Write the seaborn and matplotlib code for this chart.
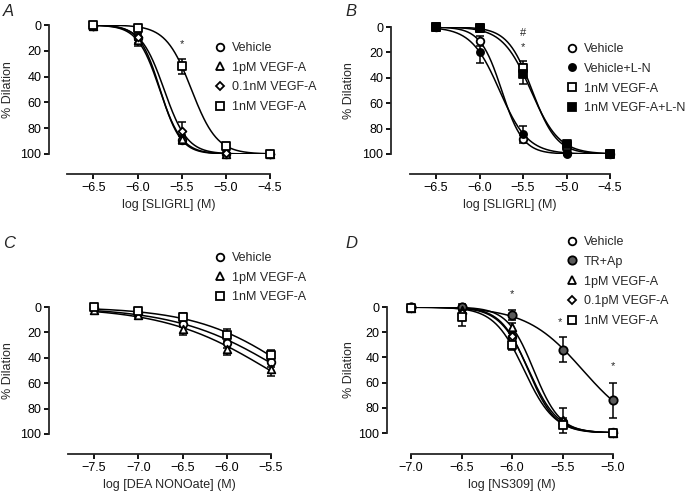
import numpy as np
import matplotlib
matplotlib.use("Agg")
import matplotlib.pyplot as plt
import seaborn as sns
from matplotlib.lines import Line2D

sns.set_style("ticks")
plt.rcParams["font.family"] = ["Liberation Sans", "DejaVu Sans"]
plt.rcParams["axes.linewidth"] = 1.3
plt.rcParams["xtick.major.width"] = 1.3
plt.rcParams["ytick.major.width"] = 1.3
plt.rcParams["xtick.major.size"] = 3.5
plt.rcParams["ytick.major.size"] = 3.5
plt.rcParams["xtick.color"] = "black"
plt.rcParams["ytick.color"] = "black"

# ---------------- data (log concentration vs % dilation, mean and SEM) ----------------
# panel A: SLIGRL
a_x = [-6.5, -6.0, -5.5, -5.0, -4.5]
a_labels = ["Vehicle", "1pM VEGF-A", "0.1nM VEGF-A", "1nM VEGF-A"]
a_vehicle = [1, 10, 89, 100, 100]
a_1pm = [1, 12, 88, 100, 100]
a_01nm = [1, 9, 82, 99, 100]
a_1nm = [0, 2, 32, 94, 100]
a_vehicle_err = [1, 4, 3, 1, 1]
a_1pm_err = [1, 4, 3, 1, 1]
a_01nm_err = [1, 3, 7, 1, 1]
a_1nm_err = [1, 2, 6, 2, 1]

# panel B: SLIGRL +/- L-NAME
b_x = [-6.5, -6.0, -5.5, -5.0, -4.5]
b_labels = ["Vehicle", "Vehicle+L-N", "1nM VEGF-A", "1nM VEGF-A+L-N"]
b_vehicle = [0, 11, 88, 99, 100]
b_vehicle_ln = [0, 20, 84, 100, 100]
b_1nm = [0, 1, 32, 94, 100]
b_1nm_ln = [0, 1, 37, 92, 100]
b_vehicle_err = [1, 4, 3, 1, 1]
b_vehicle_ln_err = [1, 8, 6, 1, 1]
b_1nm_err = [1, 2, 5, 2, 1]
b_1nm_ln_err = [1, 2, 8, 2, 1]

# panel C: DEA NONOate
c_x = [-7.5, -7.0, -6.5, -6.0, -5.5]
c_labels = ["Vehicle", "1pM VEGF-A", "1nM VEGF-A"]
c_vehicle = [1, 5, 13, 28, 43]
c_1pm = [2, 6, 17, 33, 49]
c_1nm = [0, 3, 8, 22, 38]
c_vehicle_err = [1, 1, 3, 4, 4]
c_1pm_err = [1, 2, 5, 5, 5]
c_1nm_err = [1, 1, 3, 5, 4]

# panel D: NS309
d_x = [-7.0, -6.5, -6.0, -5.5, -5.0]
d_labels = ["Vehicle", "TR+Ap", "1pM VEGF-A", "0.1pM VEGF-A", "1nM VEGF-A"]
d_vehicle = [0, 0, 24, 91, 99]
d_trap = [0, 0, 6, 34, 74]
d_1pm = [1, 2, 16, 90, 100]
d_01pm = [1, 5, 23, 93, 100]
d_1nm = [1, 8, 30, 94, 100]
d_vehicle_err = [1, 2, 3, 3, 1]
d_trap_err = [1, 1, 4, 10, 14]
d_1pm_err = [1, 2, 3, 10, 1]
d_01pm_err = [1, 3, 3, 3, 1]
d_1nm_err = [1, 7, 4, 2, 1]


def hill_fit(x, y):
    # least squares fit of a 0-100 sigmoid, grid search
    x = np.asarray(x, float)
    y = np.asarray(y, float)
    ec = np.arange(-8.0, -4.0, 0.005)
    hs = np.arange(0.3, 6.0, 0.02)
    E, H = np.meshgrid(ec, hs, indexing="ij")
    pred = 100 / (1 + 10 ** ((E[..., None] - x) * H[..., None]))
    sse = ((pred - y) ** 2).sum(axis=-1)
    i, j = np.unravel_index(sse.argmin(), sse.shape)
    return ec[i], hs[j]


W, H_ = 693, 500


def rect(l, t, r, b):
    return [l / W, 1 - b / H_, (r - l) / W, (b - t) / H_]


def pt(p):
    return p * 72 / 100


def draw_panel(ax, x, ys, errs, labels, styles, xlim, xlabel, left_off, bottom_off,
               leg_xy, ylabel_x):
    xs = np.linspace(min(x), max(x), 300)
    handles = []
    for y, e, lab, (mk, fc, ms) in zip(ys, errs, labels, styles):
        ec50, n = hill_fit(x, y)
        curve = 100 / (1 + 10 ** ((ec50 - xs) * n))
        sns.lineplot(x=xs, y=curve, ax=ax, color="black", linewidth=1.1,
                     zorder=2, legend=False)
        ax.errorbar(x, y, yerr=e, fmt="none", ecolor="black", elinewidth=1.1,
                    capsize=3, capthick=1.1, zorder=3, clip_on=False)
        sns.scatterplot(x=x, y=y, ax=ax, marker=mk, s=ms, color=fc,
                        edgecolor="black", linewidth=1.3, zorder=4,
                        clip_on=False, legend=False)
        handles.append(Line2D([], [], marker=mk, linestyle="none",
                              markerfacecolor=fc, markeredgecolor="black",
                              markeredgewidth=1.3, markersize=np.sqrt(ms)))
    ax.set_xlim(*xlim)
    ax.set_ylim(100, 0)
    ax.set_yticks([0, 20, 40, 60, 80, 100])
    ax.set_xticks(x)
    ax.set_xticklabels([f"{v:.1f}".replace("-", "\u2212") for v in x])
    for s in ["top", "right"]:
        ax.spines[s].set_visible(False)
    ax.spines["left"].set_position(("outward", pt(left_off)))
    ax.spines["bottom"].set_position(("outward", pt(bottom_off)))
    ax.spines["left"].set_bounds(0, 100)
    ax.spines["bottom"].set_bounds(*xlim)
    ax.tick_params(labelsize=9, pad=2)
    ax.set_xlabel(xlabel, fontsize=9, labelpad=4)
    ax.set_ylabel("")
    ax.figure.text(ylabel_x / W, 1 - ((ax.get_position().y0 + ax.get_position().y1) / 2 * -1 + 1),
                   "% Dilation", rotation=90, fontsize=9, ha="center", va="center")
    ax.legend(handles, labels, loc="upper left",
              bbox_to_anchor=(leg_xy[0] / W, 1 - leg_xy[1] / H_),
              bbox_transform=ax.figure.transFigure, frameon=False,
              fontsize=9, handlelength=0.7, handletextpad=0.55,
              labelspacing=0.62, borderpad=0, borderaxespad=0)


fig = plt.figure(figsize=(6.93, 5.0), dpi=100)

open_c = ("o", "white", 30)
open_t = ("^", "white", 30)
open_d = ("D", "white", 16)
open_s = ("s", "white", 30)
fill_c = ("o", "black", 26)
fill_s = ("s", "black", 30)
gray_c = ("o", "#5a5a5a", 36)

axA = fig.add_axes(rect(67, 25, 270, 154))
draw_panel(axA, a_x, [a_vehicle, a_1pm, a_01nm, a_1nm],
           [a_vehicle_err, a_1pm_err, a_01nm_err, a_1nm_err], a_labels,
           [open_c, open_t, open_d, open_s], (-6.8, -4.5), "log [SLIGRL] (M)",
           18, 20, (216, 42), 8)
axA.text(-5.5, 15, "*", ha="center", va="center", fontsize=8)

axB = fig.add_axes(rect(410, 27, 610, 154))
draw_panel(axB, b_x, [b_vehicle, b_vehicle_ln, b_1nm, b_1nm_ln],
           [b_vehicle_err, b_vehicle_ln_err, b_1nm_err, b_1nm_ln_err], b_labels,
           [open_c, fill_c, open_s, fill_s], (-6.8, -4.5), "log [SLIGRL] (M)",
           19, 20, (568, 43), 349)
axB.text(-5.5, 5, "#", ha="center", va="center", fontsize=8)
axB.text(-5.5, 16, "*", ha="center", va="center", fontsize=8)

axC = fig.add_axes(rect(67.5, 307, 271, 434))
draw_panel(axC, c_x, [c_vehicle, c_1pm, c_1nm],
           [c_vehicle_err, c_1pm_err, c_1nm_err], c_labels,
           [open_c, open_t, open_s], (-7.8, -5.5), "log [DEA NONOate] (M)",
           18.5, 20, (216, 252), 8)

axD = fig.add_axes(rect(411, 307, 613, 433))
draw_panel(axD, d_x, [d_vehicle, d_trap, d_1pm, d_01pm, d_1nm],
           [d_vehicle_err, d_trap_err, d_1pm_err, d_01pm_err, d_1nm_err], d_labels,
           [open_c, gray_c, open_t, open_d, open_s], (-7.0, -5.0), "log [NS309] (M)",
           24, 21, (568, 236), 349)
axD.text(-6.0, -10, "*", ha="center", va="center", fontsize=8, clip_on=False)
axD.text(-5.53, 12, "*", ha="center", va="center", fontsize=8)
axD.text(-5.0, 47, "*", ha="center", va="center", fontsize=8)

for lab, x0, y0 in [("A", 3, 11), ("B", 345, 11), ("C", 3, 243), ("D", 345, 243)]:
    fig.text(x0 / W, 1 - y0 / H_, lab, fontsize=12, style="italic",
             ha="left", va="center")

fig.savefig("out.png", dpi=100)
